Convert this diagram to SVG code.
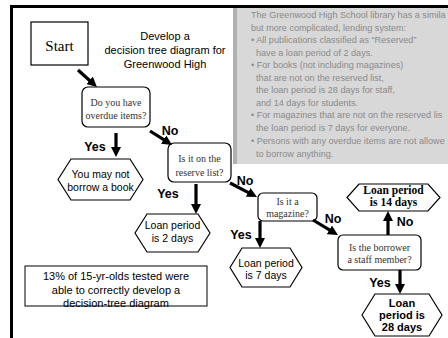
<svg xmlns="http://www.w3.org/2000/svg" width="448" height="338" viewBox="0 0 448 338">
<style>
.box{fill:#fff;stroke:#000;stroke-width:1.2}
.q{font-family:"Liberation Serif",serif;font-size:10px;fill:#333;text-anchor:middle}
.h{font-family:"Liberation Sans",Arial,sans-serif;font-size:10.5px;fill:#000;text-anchor:middle}
.hb{font-family:"Liberation Sans",Arial,sans-serif;font-size:11px;font-weight:bold;fill:#000;text-anchor:middle}
.hs{font-family:"Liberation Serif",serif;font-size:11.5px;font-weight:bold;fill:#000;text-anchor:middle}
.lbl{font-family:"Liberation Sans",Arial,sans-serif;font-size:12.5px;font-weight:bold;fill:#000;text-anchor:middle}
.g{font-family:"Liberation Sans",Arial,sans-serif;font-size:9.1px;fill:#8a8a8a}
.arr{stroke:#000;stroke-width:3.2;fill:none;marker-end:url(#ah)}
.t{font-family:"Liberation Sans",Arial,sans-serif;font-size:11px;fill:#000;text-anchor:middle}
</style>
<defs>
<marker id="ah" viewBox="0 0 10 10" refX="2" refY="5" markerUnits="userSpaceOnUse" markerWidth="10" markerHeight="10" orient="auto">
<path d="M0,0 L10,5 L0,10 z" fill="#000"/>
</marker>
</defs>
<rect width="448" height="338" fill="#fff"/>
<g id="grey-panel">
<rect x="233" y="8" width="215" height="156" fill="#d8d8d8"/>
<rect x="233" y="8" width="4" height="156" fill="#b0b0b0"/>
<text class="g" x="251" y="18">The Greenwood High School library has a simila</text>
<text class="g" x="251" y="30.5">but more complicated, lending system:</text>
<text class="g" x="251" y="43">• All publications classified as “Reserved”</text>
<text class="g" x="256" y="55.5">have a loan period of 2 days.</text>
<text class="g" x="251" y="68">• For books (not including magazines)</text>
<text class="g" x="256" y="80.5">that are not on the reserved list,</text>
<text class="g" x="256" y="93">the loan period is 28 days for staff,</text>
<text class="g" x="256" y="105.5">and 14 days for students.</text>
<text class="g" x="251" y="118">• For magazines that are not on the reserved lis</text>
<text class="g" x="256" y="130.5">the loan period is 7 days for everyone.</text>
<text class="g" x="251" y="144">• Persons with any overdue items are not allowe</text>
<text class="g" x="256" y="156.5">to borrow anything.</text>
</g>
<path d="M11.5,338 V6.5 H448" fill="none" stroke="#000" stroke-width="3"/>
<g id="start">
<rect class="box" x="31" y="22" width="57" height="43"/>
<text x="59.5" y="51" font-family="Liberation Serif,serif" font-size="15" text-anchor="middle">Start</text>
</g>
<g id="title">
<text class="t" x="165" y="40">Develop a</text>
<text class="t" x="165" y="54">decision tree diagram for</text>
<text class="t" x="165" y="68">Greenwood High</text>
</g>
<g id="q-overdue">
<rect class="box" x="82" y="87" width="68" height="40" rx="6"/>
<text class="q" x="116" y="105.5">Do you have</text>
<text class="q" x="116" y="118.5">overdue items?</text>
</g>
<g id="q-reserve">
<rect class="box" x="168" y="143" width="63" height="39" rx="6"/>
<text class="q" x="199.5" y="161.5">Is it on the</text>
<text class="q" x="199.5" y="175.5">reserve list?</text>
</g>
<g id="q-magazine">
<rect class="box" x="258" y="193" width="59" height="28" rx="5"/>
<text class="q" x="287.5" y="204.5">Is it a</text>
<text class="q" x="287.5" y="216.5">magazine?</text>
</g>
<g id="q-staff">
<rect class="box" x="338" y="235" width="83" height="35" rx="5"/>
<text class="q" x="379.5" y="250.5">Is the borrower</text>
<text class="q" x="379.5" y="262.5">a staff member?</text>
</g>
<g id="no-borrow">
<polygon class="box" points="58,179.5 71,159 130,159 143,179.5 130,200 71,200"/>
<text class="h" x="100.5" y="177.5">You may not</text>
<text class="h" x="100.5" y="190.5">borrow a book</text>
</g>
<g id="loan-2">
<polygon class="box" points="135,233 147,214 198,214 210,233 198,252 147,252"/>
<text class="h" x="172.5" y="228.5">Loan period</text>
<text class="h" x="172.5" y="241.5">is 2 days</text>
</g>
<g id="loan-7">
<polygon class="box" points="230,267.5 242,248 290,248 302,267.5 290,287 242,287"/>
<text class="h" x="266" y="266.5">Loan period</text>
<text class="h" x="266" y="278.5">is 7 days</text>
</g>
<g id="loan-14">
<polygon class="box" points="347,197.5 359,184 428,184 440,197.5 428,211 359,211"/>
<text class="hs" x="393.5" y="194">Loan period</text>
<text class="hs" x="393.5" y="206">is 14 days</text>
</g>
<g id="loan-28">
<polygon class="box" points="362,315 375,294 429,294 442,315 429,336 375,336"/>
<text class="hb" x="402" y="307">Loan</text>
<text class="hb" x="402" y="319">period is</text>
<text class="hb" x="402" y="331">28 days</text>
</g>
<g id="note">
<rect x="25" y="266" width="182" height="40" fill="#fff" stroke="#000" stroke-width="1"/>
<text class="t" font-size="12" x="116" y="280">13% of 15-yr-olds tested were</text>
<text class="t" font-size="12" x="116" y="294">able to correctly develop a</text>
<text class="t" font-size="12" x="116" y="307">decision-tree diagram</text>
</g>
<g id="connectors">
<path class="arr" d="M78,70 L91,81.7"/>
<path class="arr" d="M116,133 V149"/>
<path class="arr" d="M150,131 L165.3,140.7"/>
<path class="arr" d="M196,184 V206"/>
<path class="arr" d="M230,183 L249.9,193.3"/>
<path class="arr" d="M260,221 V240"/>
<path class="arr" d="M313,220 L331.1,230.9"/>
<path class="arr" d="M388,235 V219"/>
<path class="arr" d="M400,270 V286"/>
</g>
<g id="labels">
<text class="lbl" x="95" y="150.5">Yes</text>
<text class="lbl" x="170" y="134.5">No</text>
<text class="lbl" x="168" y="197.5">Yes</text>
<text class="lbl" x="245" y="184.5">No</text>
<text class="lbl" x="241" y="238.5">Yes</text>
<text class="lbl" x="333" y="222.5">No</text>
<text class="lbl" x="405" y="225.5">No</text>
<text class="lbl" x="380" y="286.5">Yes</text>
</g>
</svg>
